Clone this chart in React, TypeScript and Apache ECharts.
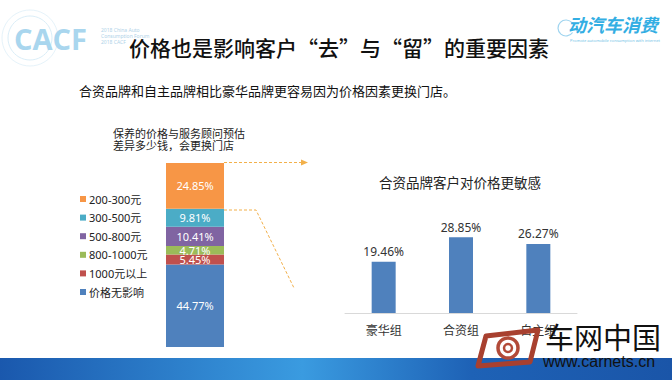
import React, { useEffect, useRef } from "react";
import * as echarts from "echarts";

const stackCategories = ["保养"];
const stackSeriesNames = ["价格无影响", "1000元以上", "800-1000元", "500-800元", "300-500元", "200-300元"];
const stackValues = [44.77, 5.45, 4.71, 10.41, 9.81, 24.85];
const stackColors = ["#4F81BD", "#C0504D", "#9BBB59", "#8064A2", "#4BACC6", "#F79646"];
const legendOrder = ["200-300元", "300-500元", "500-800元", "800-1000元", "1000元以上", "价格无影响"];

const groupCategories = ["豪华组", "合资组", "自主组"];
const groupValues = [19.46, 28.85, 26.27];

const titleText = "价格也是影响客户“去”与“留”的重要因素";
const subtitleText = "合资品牌和自主品牌相比豪华品牌更容易因为价格因素更换门店。";
const noteLines = ["保养的价格与服务顾问预估", "差异多少钱，会更换门店"];
const rightTitle = "合资品牌客户对价格更敏感";

const CJK = "'Noto Sans CJK SC', 'Noto Sans', sans-serif";
const NUM = "'Noto Sans', 'Noto Sans CJK SC', sans-serif";

export default function App() {
  const ref = useRef<HTMLDivElement>(null);
  useEffect(() => {
    if (!ref.current) return;
    const chart = echarts.init(ref.current, null, { renderer: "svg" });
    const dash = "#F2B04A";
    const stackSeries = stackSeriesNames.map((name, i) => ({
      type: "bar",
      name,
      stack: "s",
      xAxisIndex: 0,
      yAxisIndex: 0,
      data: [stackValues[i]],
      barWidth: "100%",
      itemStyle: { color: stackColors[i] },
      label: {
        show: true,
        position: "inside",
        color: "#fff",
        fontSize: 11,
        lineHeight: 11,
        fontFamily: NUM,
        formatter: "{c}%",
      },
    }));
    const option: any = {
      animation: false,
      backgroundColor: "#ffffff",
      grid: [
        { left: 166, top: 163, width: 58, height: 184 },
        { left: 345, top: 221, width: 232, height: 92 },
      ],
      xAxis: [
        { gridIndex: 0, type: "category", data: stackCategories, show: false },
        {
          gridIndex: 1,
          type: "category",
          data: groupCategories,
          axisLine: { lineStyle: { color: "#d9d9d9", width: 1 } },
          axisTick: { show: false },
          axisLabel: { fontSize: 12, color: "#333", margin: 10, fontFamily: CJK },
        },
      ],
      yAxis: [
        { gridIndex: 0, type: "value", min: 0, max: 100, show: false },
        { gridIndex: 1, type: "value", min: 0, max: 35, show: false },
      ],
      legend: {
        orient: "vertical",
        left: 80,
        top: 192,
        padding: 0,
        itemWidth: 6,
        itemHeight: 6,
        itemGap: 4.6,
        icon: "rect",
        selectedMode: false,
        data: legendOrder,
        textStyle: { fontSize: 11, color: "#222", lineHeight: 14, fontFamily: NUM, padding: [0, 0, 0, -2] },
      },
      series: [
        ...stackSeries,
        {
          type: "bar",
          name: "group",
          xAxisIndex: 1,
          yAxisIndex: 1,
          data: groupValues,
          barWidth: 24,
          itemStyle: { color: "#4F81BD" },
          label: {
            show: true,
            position: "top",
            distance: 4,
            formatter: "{c}%",
            fontSize: 12,
            color: "#333",
            fontFamily: NUM,
          },
        },
      ],
      graphic: [
        // bottom band
        {
          type: "rect",
          z: 50,
          shape: { x: 0, y: 358, width: 672, height: 22 },
          style: {
            fill: {
              type: "linear", x: 0, y: 0, x2: 1, y2: 0,
              colorStops: [
                { offset: 0, color: "#1a58ad" },
                { offset: 0.45, color: "#3a9be0" },
                { offset: 0.7, color: "#1e62b6" },
                { offset: 1, color: "#1a55a8" },
              ],
            },
          },
        },
        // CACF logo
        { type: "circle", z: 1, shape: { cx: 30, cy: 38, r: 22 }, style: { fill: "none", stroke: "#dbeef8", lineWidth: 1 } },
        { type: "circle", z: 1, shape: { cx: 30, cy: 38, r: 28 }, style: { fill: "none", stroke: "#e6f3fa", lineWidth: 1 } },
        {
          type: "text", z: 2, left: 14, top: 24,
          style: { text: "CACF", fontSize: 29, fontWeight: "bold", fill: "#a9d6ee", fontFamily: "'Open Sans', sans-serif" },
        },
        {
          type: "text", z: 2, left: 101, top: 27,
          style: { text: "2018 China Auto\nConsumption Forum\n2018 CACF", fontSize: 5, lineHeight: 6, fill: "#b0d2e8", fontFamily: NUM },
        },
        // right logo
        { type: "arc", z: 2, shape: { cx: 566, cy: 28, r: 8, startAngle: 0.6, endAngle: 5.6 }, style: { stroke: "#9fd4ef", lineWidth: 1.2, fill: "none" } },
        {
          type: "text", z: 2, left: 568, top: 15,
          style: { text: "动汽车消费", fontSize: 18, fontWeight: "bold", fontStyle: "italic", fill: "#33aee3", fontFamily: CJK },
        },
        {
          type: "text", z: 2, left: 570, top: 38,
          style: { text: "Promote automobile consumption with internet", fontSize: 4, fill: "#6fbfe6", fontFamily: NUM },
        },
        // title
        {
          type: "text", z: 3, left: 129, top: 36,
          style: { text: titleText, fontSize: 21, fontWeight: 500, fill: "#111", fontFamily: CJK },
        },
        {
          type: "text", z: 3, left: 79, top: 84,
          style: { text: subtitleText, fontSize: 13, fill: "#111", fontFamily: CJK },
        },
        {
          type: "text", z: 3, left: 113, top: 127,
          style: { text: noteLines.join("\n"), fontSize: 11, lineHeight: 12, fill: "#222", fontFamily: CJK },
        },
        {
          type: "text", z: 3, left: 379, top: 175,
          style: { text: rightTitle, fontSize: 13.5, fill: "#222", fontFamily: CJK },
        },
        // dashed connector lines
        {
          type: "polyline", z: 4,
          shape: { points: [[224, 162.5], [303, 162.5]] },
          style: { stroke: dash, lineWidth: 1, lineDash: [3, 2], fill: "none" },
        },
        { type: "polygon", z: 4, shape: { points: [[301, 159.5], [308, 162.5], [301, 165.5]] }, style: { fill: dash } },
        {
          type: "polyline", z: 4,
          shape: { points: [[224, 210], [256, 210], [294, 288]] },
          style: { stroke: dash, lineWidth: 1, lineDash: [3, 2], fill: "none" },
        },
        // watermark logo
        {
          type: "polygon", z: 60,
          shape: { points: [[486, 336], [538, 330], [530, 362], [478, 366]] },
          style: { fill: "none", stroke: "#a8402f", lineWidth: 5, lineJoin: "round" },
        },
        { type: "circle", z: 61, shape: { cx: 508, cy: 348, r: 10 }, style: { fill: "none", stroke: "#b24a38", lineWidth: 3.5 } },
        { type: "circle", z: 61, shape: { cx: 508, cy: 348, r: 4 }, style: { fill: "none", stroke: "#b24a38", lineWidth: 2.5 } },
        {
          type: "text", z: 62, left: 545, top: 321,
          style: { text: "车网中国", fontSize: 29, fill: "#111", fontFamily: CJK },
        },
        {
          type: "text", z: 62, left: 543, top: 353,
          style: { text: "www.carnets.cn", fontSize: 16, fill: "#111", fontFamily: "'Liberation Sans', sans-serif" },
        },
      ],
    };
    chart.setOption(option);
    return () => chart.dispose();
  }, []);
  return (
    <div
      ref={ref}
      style={{ position: "fixed", left: 0, top: 0, width: 672, height: 380 }}
    />
  );
}
